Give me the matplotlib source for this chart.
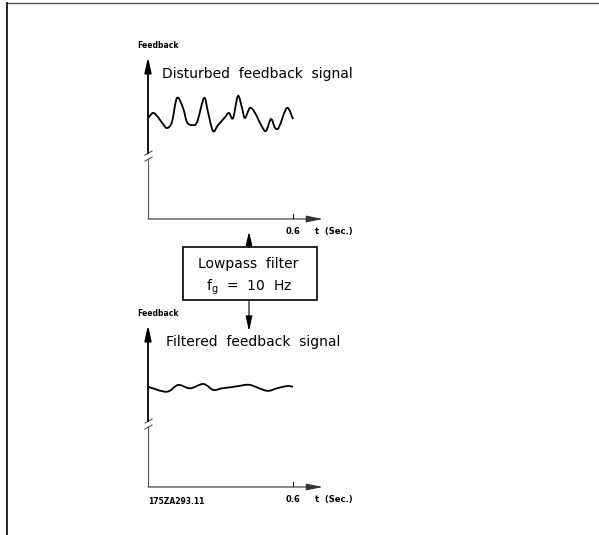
import numpy as np
import matplotlib
matplotlib.use("Agg")
import matplotlib.pyplot as plt
from matplotlib.path import Path
from matplotlib.patches import PathPatch, Rectangle

# time (s) and feedback (arbitrary units)
t_disturbed = [0.0, 0.021, 0.041, 0.062, 0.079, 0.099, 0.120, 0.145, 0.161, 0.182,
               0.203, 0.232, 0.248, 0.269, 0.290, 0.319, 0.335, 0.352, 0.372, 0.389,
               0.401, 0.422, 0.443, 0.468, 0.488, 0.509, 0.526, 0.542, 0.575, 0.600]
fb_disturbed = [60.7, 63.9, 61.4, 57.2, 54.8, 58.4, 72.9, 66.9, 58.4, 56.6,
                58.4, 72.9, 64.5, 53.0, 56.6, 61.4, 63.9, 60.8, 74.1, 66.9,
                60.8, 66.9, 63.9, 56.6, 53.0, 60.2, 54.8, 55.4, 66.9, 60.2]

t_filtered = [0.0, 0.077, 0.125, 0.174, 0.229, 0.270, 0.305, 0.339, 0.374, 0.422,
              0.491, 0.533, 0.574, 0.600]
fb_filtered = [61.9, 58.8, 63.0, 60.9, 63.6, 59.9, 60.9, 61.5, 62.3, 63.0,
               59.4, 60.9, 62.3, 61.9]

t_end = 0.6
tick_label = "0.6"
x_label = "t  (Sec.)"
y_label = "Feedback"
titles = ["Disturbed  feedback  signal", "Filtered  feedback  signal"]
box_lines = ["Lowpass  filter", r"f$_{\mathrm{g}}$  =  10  Hz"]
drawing_no = "175ZA293.11"

W, H = 599, 535


def smooth_path(x, y):
    # Catmull-Rom curve through the points, drawn as cubic Bezier segments
    x = np.asarray(x, float)
    y = np.asarray(y, float)
    px = np.r_[x[0], x, x[-1]]
    py = np.r_[y[0], y, y[-1]]
    verts = [(x[0], y[0])]
    codes = [Path.MOVETO]
    for i in range(1, len(px) - 2):
        c1 = (px[i] + (px[i + 1] - px[i - 1]) / 6, py[i] + (py[i + 1] - py[i - 1]) / 6)
        c2 = (px[i + 1] - (px[i + 2] - px[i]) / 6, py[i + 1] - (py[i + 2] - py[i]) / 6)
        verts += [c1, c2, (px[i + 1], py[i + 1])]
        codes += [Path.CURVE4] * 3
    return Path(verts, codes)


fig = plt.figure(figsize=(W / 100, H / 100), dpi=100)

# overlay in pixel coordinates for the frame, box and arrows
ov = fig.add_axes([0, 0, 1, 1])
ov.set_xlim(0, W)
ov.set_ylim(H, 0)
ov.axis("off")

ov.plot([7, 598], [3, 3], color="#555555", lw=1.0)
ov.plot([7, 7], [3, 535], color="black", lw=1.2)

ov.add_patch(Rectangle((183, 247), 134, 53, fill=False, ec="black", lw=1.2))
ov.text(248, 264, box_lines[0], ha="center", va="center", fontsize=10)
ov.text(249, 287, box_lines[1], ha="center", va="center", fontsize=10)
ov.annotate("", xy=(249, 232), xytext=(249, 247),
            arrowprops=dict(arrowstyle="-|>,head_length=0.8,head_width=0.2",
                            lw=0.8, color="black", shrinkA=0, shrinkB=0))
ov.annotate("", xy=(249, 331), xytext=(249, 300),
            arrowprops=dict(arrowstyle="-|>,head_length=0.9,head_width=0.2",
                            lw=0.8, color="black", shrinkA=0, shrinkB=0))

ov.text(148, 502, drawing_no, ha="left", va="center", fontsize=5.5, fontweight="bold")

panels = [
    # (axis pixel bottom, top, px per unit, t, fb, title)
    (219, 57, 1.66, t_disturbed, fb_disturbed, titles[0]),
    (487, 325, 1.62, t_filtered, fb_filtered, titles[1]),
]

x_tip = 323
brk_hi, brk_lo = 0.407, 0.370
for bottom, top, scale, t, fb, title in panels:
    h = bottom - top
    ax = fig.add_axes([148 / W, 1 - bottom / H, (x_tip - 148) / W, h / H])
    ax.set_xlim(0, t_end * (x_tip - 148) / 145)
    ax.set_ylim(0, h / scale)
    ax.patch.set_alpha(0)
    ax.axis("off")

    # y axis with break
    ax.annotate("", xy=(0, 1), xytext=(0, brk_hi), xycoords="axes fraction",
                arrowprops=dict(arrowstyle="-|>,head_length=0.9,head_width=0.2",
                                lw=1.3, color="black", shrinkA=0, shrinkB=0))
    ax.plot([0, 0], [0, brk_lo], transform=ax.transAxes, color="#555555", lw=0.8)
    for f in (brk_hi, brk_lo):
        ax.plot([-3 / 175, 4 / 175], [f - 2 / h, f + 2 / h], transform=ax.transAxes,
                color="#555555", lw=0.8, clip_on=False)

    # x axis
    ax.annotate("", xy=(1, 0), xytext=(0, 0), xycoords="axes fraction",
                arrowprops=dict(arrowstyle="-|>,head_length=1.0,head_width=0.2",
                                lw=0.8, color="#333333", shrinkA=0, shrinkB=0))
    ax.plot([t_end, t_end], [0, 3], color="black", lw=0.8)
    ax.annotate(tick_label, xy=(t_end, 0), xytext=(0, -6), textcoords="offset points",
                ha="center", va="top", fontsize=6, fontweight="bold")
    ax.annotate(x_label, xy=(1, 0), xycoords="axes fraction", xytext=(-6, -6),
                textcoords="offset points", ha="left", va="top",
                fontsize=6, fontweight="bold")

    ax.annotate(y_label, xy=(0, 1), xycoords="axes fraction", xytext=(-8, 5),
                textcoords="offset points", ha="left", va="bottom",
                fontsize=5.5, fontweight="bold")
    ax.annotate(title, xy=(0, 1), xycoords="axes fraction",
                xytext=(10 if bottom < 300 else 13, -12),
                textcoords="offset points", ha="left", va="center", fontsize=10)

    ax.add_patch(PathPatch(smooth_path(t, fb), fill=False, ec="black", lw=1.3))

fig.savefig("out.png", dpi=100)
